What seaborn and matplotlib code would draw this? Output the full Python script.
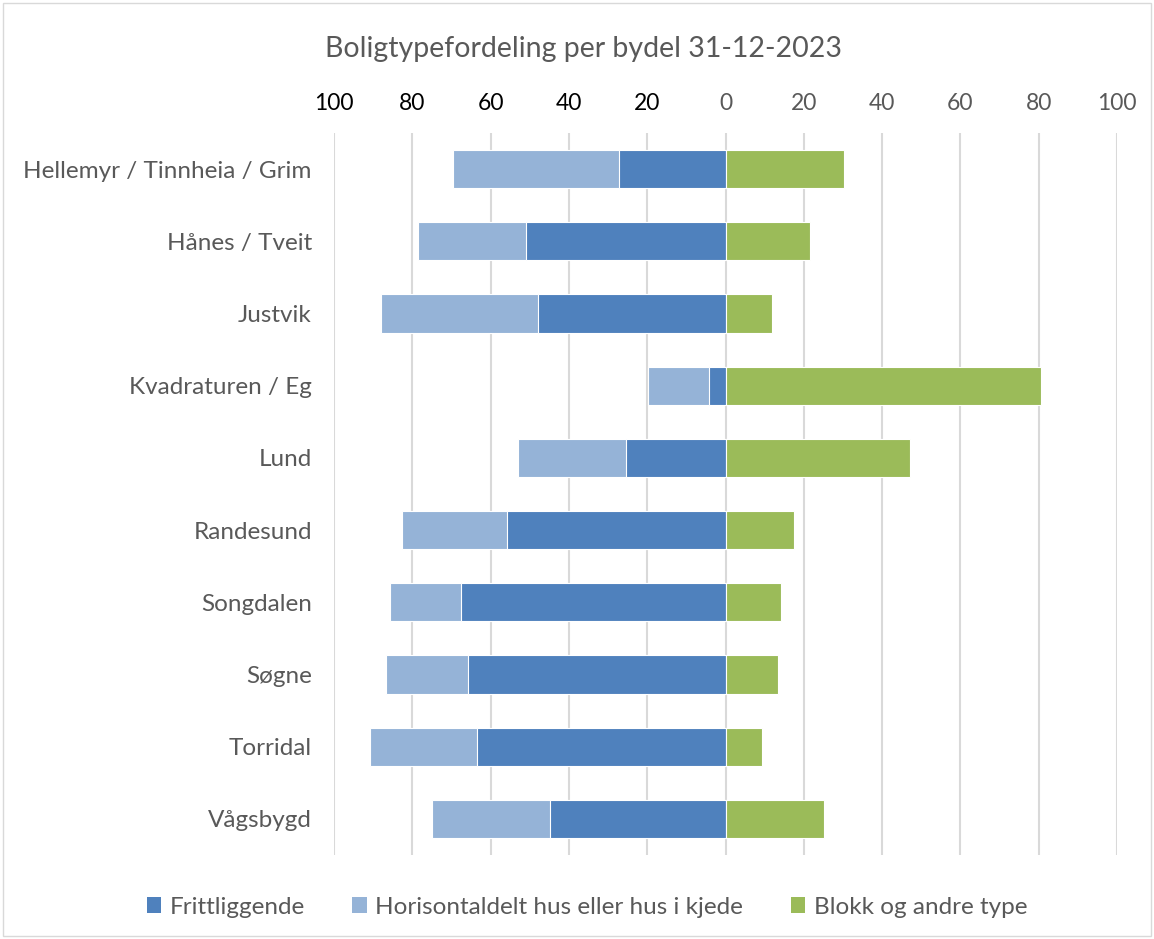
import matplotlib
matplotlib.use("Agg")
import matplotlib.pyplot as plt
from matplotlib.patches import Rectangle, Patch
import seaborn as sns
import pandas as pd

bydeler = [
    "Hellemyr / Tinnheia / Grim", "Hånes / Tveit", "Justvik", "Kvadraturen / Eg",
    "Lund", "Randesund", "Songdalen", "Søgne", "Torridal", "Vågsbygd",
]
frittliggende = [27.1, 50.9, 47.8, 4.3, 25.5, 55.8, 67.5, 65.7, 63.4, 44.8]
horisontaldelt = [42.6, 27.6, 40.2, 15.4, 27.4, 26.8, 18.2, 21.0, 27.4, 30.1]
blokk = [30.3, 21.5, 12.0, 80.5, 47.1, 17.4, 14.3, 13.3, 9.2, 25.1]

series_names = ["Frittliggende", "Horisontaldelt hus eller hus i kjede", "Blokk og andre type"]
colors = ["#4F81BD", "#95B3D7", "#9BBB59"]
title = "Boligtypefordeling per bydel 31-12-2023"
ticks = [-100, -80, -60, -40, -20, 0, 20, 40, 60, 80, 100]

df = pd.DataFrame({
    "bydel": bydeler,
    "fritt": [-v for v in frittliggende],
    "venstre_total": [-(a + b) for a, b in zip(frittliggende, horisontaldelt)],
    "blokk": blokk,
})

sns.set_theme(style="white")
plt.rcParams["font.family"] = ["Lato", "DejaVu Sans"]

fig = plt.figure(figsize=(11.54, 9.39), dpi=100)
ax = fig.add_axes([334 / 1154, 1 - 855 / 939, (1117 - 334) / 1154, (855 - 133) / 939])

bar_kw = dict(orient="h", order=bydeler, width=0.53, edgecolor="white", linewidth=0.8,
              ax=ax, zorder=3)
# stacked left side: total first, then the inner segment on top
sns.barplot(data=df, x="venstre_total", y="bydel", color=colors[1], saturation=1, **bar_kw)
sns.barplot(data=df, x="fritt", y="bydel", color=colors[0], saturation=1, **bar_kw)
sns.barplot(data=df, x="blokk", y="bydel", color=colors[2], saturation=1, **bar_kw)

ax.set_xlim(-100, 100)
ax.set_ylim(len(bydeler) - 0.5, -0.5)
ax.set_xticks(ticks)
ax.set_xticklabels([str(abs(t)) for t in ticks])
ax.xaxis.tick_top()
ax.tick_params(axis="x", length=0, pad=14, labelsize=16.5)
ax.tick_params(axis="y", length=0, pad=16, labelsize=17.5, labelcolor="#595959")
for t, lab in zip(ticks, ax.get_xticklabels()):
    lab.set_color("#000000" if t < 0 else "#595959")
ax.set_xlabel("")
ax.set_ylabel("")
ax.grid(axis="x", color="#D9D9D9", linewidth=1.5, zorder=0)
ax.grid(axis="y", visible=False)
ax.set_axisbelow(True)
for s in ax.spines.values():
    s.set_visible(False)

fig.text(584 / 1154, 1 - 49 / 939, title, ha="center", va="center", fontsize=20.5, color="#595959")

handles = [Patch(facecolor=c, edgecolor="none") for c in colors]
fig.legend(handles, series_names, loc="center", bbox_to_anchor=(587 / 1154, 1 - 907 / 939),
           ncol=3, frameon=False, fontsize=17.5, handlelength=0.6, handleheight=0.6,
           handletextpad=0.35, columnspacing=1.95, labelcolor="#595959")

fig.patches.append(Rectangle((3 / 1154, 3 / 939), 1148 / 1154, 933 / 939, transform=fig.transFigure,
                             fill=False, edgecolor="#D9D9D9", linewidth=1))

fig.savefig("out.png", dpi=100, facecolor="white")
